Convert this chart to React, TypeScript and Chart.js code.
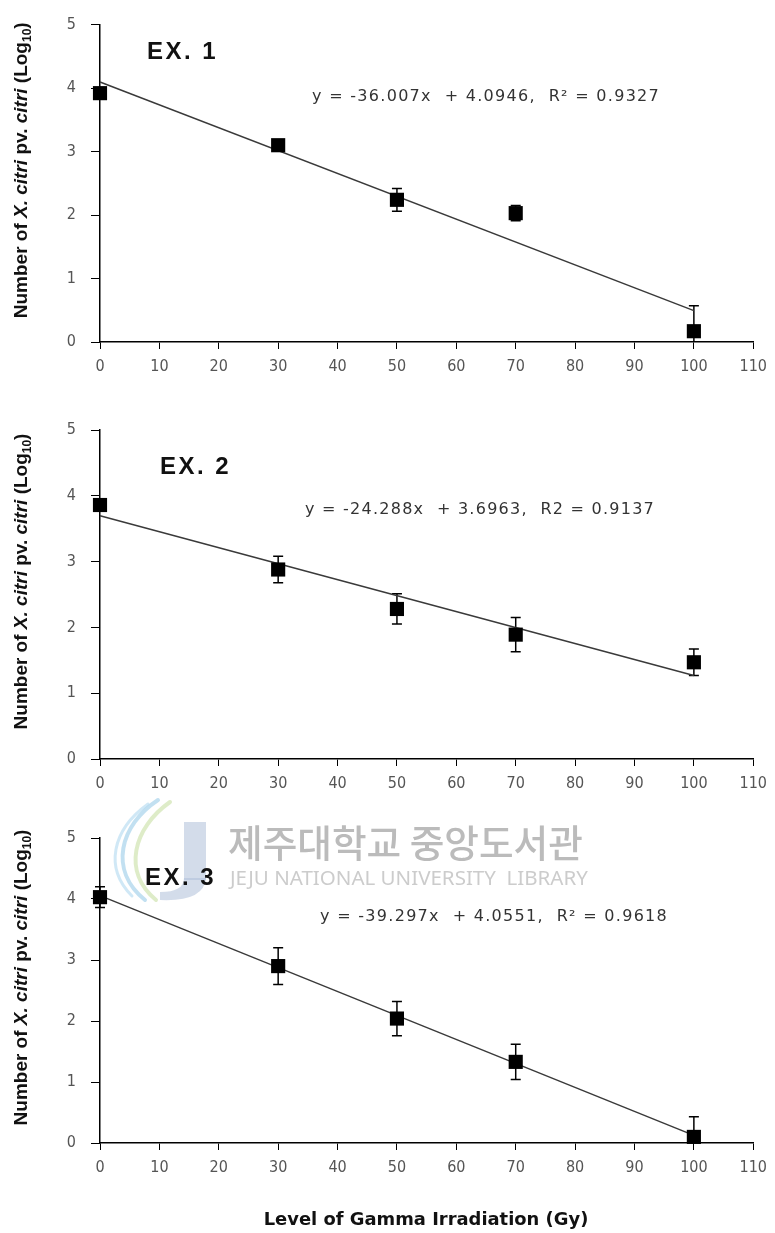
import React, { useEffect, useRef } from "react";
import { Chart, registerables } from "chart.js";

Chart.register(...registerables);

// ---------------- data ----------------
const doses = [0, 30, 50, 70, 100];

const ex1Means = [3.92, 3.1, 2.24, 2.03, 0.17];
const ex1Errors = [0.06, 0.04, 0.18, 0.12, 0.4];
const ex2Means = [3.86, 2.88, 2.28, 1.89, 1.47];
const ex2Errors = [0.05, 0.2, 0.23, 0.26, 0.2];
const ex3Means = [4.03, 2.9, 2.04, 1.33, 0.1];
const ex3Errors = [0.17, 0.3, 0.28, 0.29, 0.33];

const trendDoses = [0, 100];
const ex1Trend = [4.0946, 0.4939];
const ex2Trend = [3.6963, 1.2675];
const ex3Trend = [4.0551, 0.1254];

const xTickValues = [0, 10, 20, 30, 40, 50, 60, 70, 80, 90, 100, 110];
const yTickValues = [0, 1, 2, 3, 4, 5];

const panelLabels = ["EX. 1", "EX. 2", "EX. 3"];
const equationTexts = [
  "y = -36.007x  + 4.0946,  R\u00B2 = 0.9327",
  "y = -24.288x  + 3.6963,  R2 = 0.9137",
  "y = -39.297x  + 4.0551,  R\u00B2 = 0.9618",
];
const xAxisTitle = "Level of Gamma Irradiation (Gy)";
const watermarkKorean = "제주대학교 중앙도서관";
const watermarkEnglish = "JEJU NATIONAL UNIVERSITY  LIBRARY";

const panelMeans = [ex1Means, ex2Means, ex3Means];
const panelErrors = [ex1Errors, ex2Errors, ex3Errors];
const panelTrends = [ex1Trend, ex2Trend, ex3Trend];

// ---------------- layout (page pixels) ----------------
const layouts = [
  { top: 0, height: 395, plotTop: 15, plotBottom: 342, labelX: 147, labelY: 52, eqX: 312, eqY: 97, title: false, watermark: false },
  { top: 395, height: 400, plotTop: 430, plotBottom: 759, labelX: 160, labelY: 467, eqX: 305, eqY: 510, title: false, watermark: false },
  { top: 795, height: 438, plotTop: 838, plotBottom: 1143, labelX: 145, labelY: 878, eqX: 320, eqY: 917, title: true, watermark: true },
];

const TICK_FONT = '"DejaVu Sans Condensed", "Liberation Sans", sans-serif';
const EQ_FONT = '"DejaVu Sans", sans-serif';

function drawYTitle(ctx: CanvasRenderingContext2D, cx: number, cy: number) {
  const fam = '"Liberation Sans Narrow", "Liberation Sans", Arial, sans-serif';
  const parts = [
    { t: "Number of ", it: false, sub: false },
    { t: "X. citri", it: true, sub: false },
    { t: " pv. ", it: false, sub: false },
    { t: "citri", it: true, sub: false },
    { t: " (Log", it: false, sub: false },
    { t: "10", it: false, sub: true },
    { t: ")", it: false, sub: false },
  ];
  const fontFor = (p: any, size: number) =>
    `${p.it ? "italic " : ""}bold ${p.sub ? Math.round(size * 0.62) : size}px ${fam}`;
  const measure = (size: number) => {
    let w = 0;
    for (const p of parts) {
      ctx.font = fontFor(p, size);
      w += ctx.measureText(p.t).width;
    }
    return w;
  };
  const base = 17;
  const size = Math.min(19, base * (302 / measure(base)));
  const total = measure(size);
  ctx.save();
  ctx.translate(cx, cy);
  ctx.rotate(-Math.PI / 2);
  ctx.textBaseline = "middle";
  ctx.textAlign = "left";
  ctx.fillStyle = "#111";
  let x = -total / 2;
  for (const p of parts) {
    ctx.font = fontFor(p, size);
    ctx.fillText(p.t, x, p.sub ? size * 0.28 : 0);
    x += ctx.measureText(p.t).width;
  }
  ctx.restore();
}

function drawWatermark(ctx: CanvasRenderingContext2D, off: number) {
  ctx.save();
  ctx.globalAlpha = 0.55;
  ctx.lineCap = "round";
  ctx.lineWidth = 4;
  ctx.strokeStyle = "#8fc6e6";
  ctx.beginPath();
  ctx.moveTo(158, 800 - off);
  ctx.bezierCurveTo(120, 825 - off, 108, 870 - off, 145, 900 - off);
  ctx.stroke();
  ctx.strokeStyle = "#c3dc9a";
  ctx.beginPath();
  ctx.moveTo(170, 802 - off);
  ctx.bezierCurveTo(133, 828 - off, 122, 872 - off, 156, 900 - off);
  ctx.stroke();
  ctx.lineWidth = 3;
  ctx.strokeStyle = "#a9d5ee";
  ctx.beginPath();
  ctx.moveTo(148, 804 - off);
  ctx.bezierCurveTo(112, 830 - off, 104, 868 - off, 132, 896 - off);
  ctx.stroke();
  ctx.fillStyle = "#aebfd8";
  ctx.fillRect(184, 822 - off, 22, 58);
  ctx.beginPath();
  ctx.moveTo(206, 878 - off);
  ctx.quadraticCurveTo(204, 902 - off, 160, 900 - off);
  ctx.lineTo(160, 892 - off);
  ctx.quadraticCurveTo(184, 892 - off, 184, 878 - off);
  ctx.closePath();
  ctx.fill();
  ctx.restore();

  ctx.save();
  ctx.textBaseline = "middle";
  ctx.textAlign = "left";
  ctx.fillStyle = "#bbbbbb";
  let size = 38;
  ctx.font = `500 ${size}px "Noto Sans CJK KR", sans-serif`;
  size = size * (355 / ctx.measureText(watermarkKorean).width);
  ctx.font = `500 ${size}px "Noto Sans CJK KR", sans-serif`;
  ctx.fillText(watermarkKorean, 228, 843 - off);
  ctx.fillStyle = "#cccccc";
  let s2 = 17;
  ctx.font = `${s2}px "Noto Sans", sans-serif`;
  s2 = s2 * (358 / ctx.measureText(watermarkEnglish).width);
  ctx.font = `${s2}px "Noto Sans", sans-serif`;
  ctx.fillText(watermarkEnglish, 230, 879 - off);
  ctx.restore();
}

function makeDecor(idx: number) {
  const L = layouts[idx];
  const off = L.top;
  return {
    id: "decor" + idx,
    beforeDraw(chart: any) {
      const ctx = chart.ctx as CanvasRenderingContext2D;
      ctx.save();
      ctx.fillStyle = "#fff";
      ctx.fillRect(0, 0, chart.width, chart.height);
      ctx.restore();
      if (L.watermark) drawWatermark(ctx, off);
    },
    beforeDatasetsDraw(chart: any) {
      const ctx = chart.ctx as CanvasRenderingContext2D;
      const { chartArea, scales } = chart;
      const means = panelMeans[idx];
      const errs = panelErrors[idx];
      ctx.save();
      ctx.beginPath();
      ctx.rect(chartArea.left - 20, chartArea.top - 20, chartArea.right - chartArea.left + 40, chartArea.bottom - chartArea.top + 20);
      ctx.clip();
      ctx.strokeStyle = "#000";
      ctx.lineWidth = 1.5;
      doses.forEach((d, i) => {
        const x = scales.x.getPixelForValue(d);
        const yt = scales.y.getPixelForValue(means[i] + errs[i]);
        const yb = scales.y.getPixelForValue(means[i] - errs[i]);
        ctx.beginPath();
        ctx.moveTo(x, yt);
        ctx.lineTo(x, yb);
        ctx.moveTo(x - 5, yt);
        ctx.lineTo(x + 5, yt);
        ctx.moveTo(x - 5, yb);
        ctx.lineTo(x + 5, yb);
        ctx.stroke();
      });
      ctx.restore();
    },
    afterDraw(chart: any) {
      const ctx = chart.ctx as CanvasRenderingContext2D;
      const { chartArea } = chart;
      ctx.save();
      ctx.textBaseline = "middle";
      ctx.textAlign = "left";
      ctx.fillStyle = "#111";
      ctx.font = 'bold 24px "Liberation Sans", Arial, sans-serif';
      (ctx as any).letterSpacing = "2.5px";
      ctx.fillText(panelLabels[idx], L.labelX, L.labelY - off);
      ctx.fillStyle = "#333";
      ctx.font = `16px ${EQ_FONT}`;
      (ctx as any).letterSpacing = "0px";
      const natural = ctx.measureText(equationTexts[idx]).width;
      const target = idx === 1 ? 350 : 348;
      const n = equationTexts[idx].length;
      (ctx as any).letterSpacing = `${Math.max(0, (target - natural) / n).toFixed(2)}px`;
      ctx.fillText(equationTexts[idx], L.eqX, L.eqY - off);
      (ctx as any).letterSpacing = "0px";
      ctx.restore();
      drawYTitle(ctx, 22, (chartArea.top + chartArea.bottom) / 2 - 13);
      if (L.title) {
        ctx.save();
        ctx.textBaseline = "middle";
        ctx.textAlign = "center";
        ctx.fillStyle = "#111";
        let s = 16;
        ctx.font = `bold ${s}px "DejaVu Sans", sans-serif`;
        s = s * (325 / ctx.measureText(xAxisTitle).width);
        ctx.font = `bold ${s}px "DejaVu Sans", sans-serif`;
        ctx.fillText(xAxisTitle, 426, 1220 - off);
        ctx.restore();
      }
    },
  };
}

function Panel({ idx }: { idx: number }) {
  const ref = useRef<HTMLCanvasElement>(null);
  const L = layouts[idx];
  useEffect(() => {
    const canvas = ref.current!;
    const means = panelMeans[idx];
    const trend = panelTrends[idx];
    const xAxisHeight = L.top + L.height - L.plotBottom;
    const chart = new Chart(canvas, {
      type: "scatter",
      data: {
        datasets: [
          {
            label: panelLabels[idx],
            data: doses.map((d, i) => ({ x: d, y: means[i] })),
            pointStyle: "rect",
            pointRadius: 10,
            pointHoverRadius: 10,
            backgroundColor: "#000",
            borderColor: "#000",
            borderWidth: 0,
            clip: false,
          } as any,
          {
            type: "line",
            label: "trend",
            data: trendDoses.map((d, i) => ({ x: d, y: trend[i] })),
            borderColor: "#3a3a3a",
            borderWidth: 1.5,
            pointRadius: 0,
            fill: false,
            showLine: true,
            clip: false,
          } as any,
        ],
      },
      options: {
        animation: false,
        responsive: false,
        events: [],
        layout: { padding: { top: L.plotTop - L.top, left: 0, right: 18, bottom: 0 } },
        plugins: { legend: { display: false }, tooltip: { enabled: false } },
        scales: {
          x: {
            type: "linear",
            min: 0,
            max: 110,
            afterBuildTicks: (s: any) => {
              s.ticks = xTickValues.map((v) => ({ value: v }));
            },
            afterFit: (s: any) => {
              s.height = xAxisHeight;
            },
            grid: { drawOnChartArea: false, drawTicks: true, tickLength: 7, color: "#000", tickColor: "#000", lineWidth: 1 },
            border: { display: true, color: "#000", width: 1.5 },
            ticks: { padding: 8, color: "#555", font: { family: TICK_FONT, size: 16 }, maxRotation: 0, autoSkip: false },
          },
          y: {
            min: 0,
            max: 5,
            afterBuildTicks: (s: any) => {
              s.ticks = yTickValues.map((v) => ({ value: v }));
            },
            afterFit: (s: any) => {
              s.width = 100;
            },
            grid: { drawOnChartArea: false, drawTicks: true, tickLength: 9, color: "#000", tickColor: "#000", lineWidth: 1 },
            border: { display: true, color: "#000", width: 1.5 },
            ticks: { padding: 15, color: "#555", font: { family: TICK_FONT, size: 16 } },
          },
        },
      } as any,
      plugins: [makeDecor(idx) as any],
    });
    return () => chart.destroy();
  }, []);
  return (
    <canvas
      ref={ref}
      width={775}
      height={L.height}
      style={{ position: "absolute", left: 0, top: L.top, width: 775, height: L.height, display: "block" }}
    />
  );
}

export default function App() {
  return (
    <div style={{ position: "absolute", left: 0, top: 0, width: 775, height: 1233, background: "#fff", overflow: "hidden" }}>
      <Panel idx={0} />
      <Panel idx={1} />
      <Panel idx={2} />
    </div>
  );
}
